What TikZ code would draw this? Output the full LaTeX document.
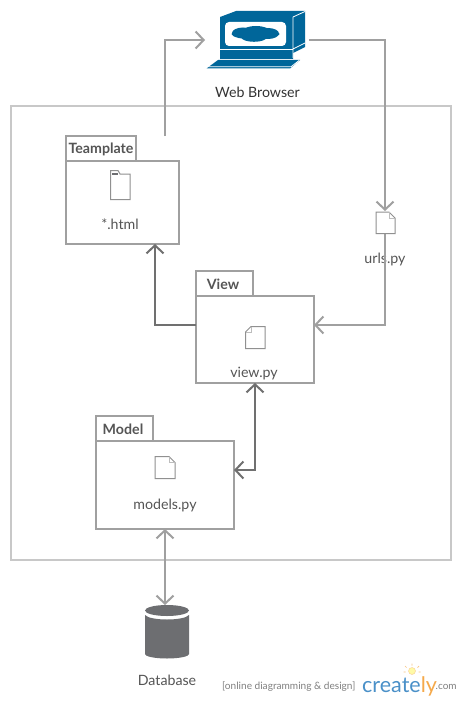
\documentclass[tikz,border=0pt]{standalone}
\usepackage{fontspec}
\setmainfont{Lato}
\usetikzlibrary{arrows.meta}
\definecolor{boxgrey}{HTML}{A0A0A0}
\definecolor{framegrey}{HTML}{C8C8C8}
\definecolor{darkline}{HTML}{707070}
\definecolor{txt}{HTML}{555555}
\definecolor{webblue}{HTML}{00669A}
\definecolor{dbgrey}{HTML}{6D6E71}
\definecolor{logoblue}{HTML}{4A90C8}
\definecolor{logoorange}{HTML}{F5A94A}
\tikzset{
  x=1pt,y=-1pt,
  boxed/.style={draw=boxgrey,line width=2pt,fill=white,inner sep=0pt,outer sep=0pt},
  tabtext/.style={font=\fontsize{14.2}{16}\selectfont\bfseries,text=txt,inner sep=0pt},
  txtlabel/.style={font=\fontsize{14.2}{16}\selectfont,text=txt,inner sep=0pt},
  docicon/.style={draw=boxgrey!90!black,line width=1pt,fill=white,line join=miter},
  foldline/.style={draw=boxgrey!70,line width=.6pt},
  greylink/.style={draw=boxgrey,line width=2pt},
  darklink/.style={draw=darkline,line width=2pt},
  vee/.tip={Straight Barb[length=8pt,width=17pt,line width=2pt]},
}
\newcommand{\pkg}[7]{% name, x0, y0, tab x1, body top, x1, y1
  \node[boxed,anchor=north west,minimum width=#4pt-#2pt,minimum height=#5pt-#3pt] (#1tab) at (#2,#3) {};
  \node[boxed,anchor=north west,minimum width=#6pt-#2pt,minimum height=#7pt-#5pt] (#1) at (#2,#5) {};
}
\begin{document}
\begin{tikzpicture}
\useasboundingbox (0,0) rectangle (460,701);
\fill[white] (0,0) rectangle (460,701);
\node[draw=framegrey,line width=2pt,anchor=north west,minimum width=440pt,minimum height=454pt,inner sep=0pt,outer sep=0pt] (frame) at (11,106) {};

\pkg{tmpl}{66}{136}{136}{161}{179}{244}
\pkg{view}{196}{271}{253}{296}{314}{383}
\pkg{model}{96}{416}{153}{441}{234}{529}
\node[tabtext] at (101,149) {Teamplate};
\node[tabtext] at (223,284) {View};
\node[tabtext] at (123,429) {Model};
\node[txtlabel] at (120,224) {*.html};
\node[txtlabel] (urlslabel) at (385,259) {urls.py};
\node[txtlabel] at (254,374) {view.py};
\node[txtlabel] at (165,505) {models.py};
\node[txtlabel,text=black!80] (browserlabel) at (257.5,92) {Web Browser};
\node[txtlabel] at (167,680) {Database};

% connector ends
\node[inner sep=0pt,outer sep=0pt,minimum width=104pt,minimum height=70pt] (browser) at (257,40) {};
\node[inner sep=0pt,outer sep=0pt,minimum width=20pt,minimum height=22pt] (urls) at (385,222) {};
\node[inner sep=0pt,outer sep=0pt,minimum width=44pt,minimum height=54pt] (db) at (167,632) {};
\coordinate (tmplout) at (165,136);

% connectors
\draw[greylink,-{vee}] (tmplout) -- (165,40) -- (browser.west);
\draw[greylink,-{vee}] (browser.east) -- (385,40) -- (urls.north);
\draw[greylink,-{vee}] (urls.south) -- (385,325) -- (view.east |- 0,325);
\draw[darklink,-{vee}] (view.west |- 0,325) -- (155,325) -- (tmpl.south -| 155,0);
\draw[darklink,{vee}-{vee}] (view.south -| 255,0) -- (255,470) -- (model.east |- 0,470);
\draw[greylink,{vee}-{vee}] (model.south -| 165,0) -- (db.north -| 165,0);

% documents
\draw[docicon] (110.5,170.5) -- (118,170.5) -- (120,174) -- (130,174) -- (130,199.5) -- (110.5,199.5) -- cycle;
\fill[dbgrey] (112,173) rectangle (118,175);
\draw[docicon] (376,212) -- (389,212) -- (395,218) -- (395,233.5) -- (376,233.5) -- cycle;
\draw[foldline] (389,212) -- (389,218) -- (395,218);
\draw[docicon] (251,326.5) -- (265,326.5) -- (265,348.5) -- (245.5,348.5) -- (245.5,332) -- cycle;
\draw[foldline] (251,326.5) -- (251,332) -- (245.5,332);
\draw[docicon] (155,456.5) -- (169,456.5) -- (175,462.5) -- (175,478.5) -- (155,478.5) -- cycle;
\draw[foldline] (169,456.5) -- (169,462.5) -- (175,462.5);

% web browser icon
\fill[webblue] (220,17) -- (236,11) -- (305,11) -- (305,47) -- (293,53) -- (293,59) -- (220,59) -- cycle;
\draw[white,line width=.8pt] (293,17) -- (305,11.5) (293,17) -- (293,58) (293,49.5) -- (220,49.5) (293,49) -- (305,43);
\fill[white,rounded corners=4pt] (225,22) rectangle (286,46);
\fill[webblue] (255.5,34) ellipse (24 and 5.5) (243,33) ellipse (11 and 5.5) (256,31.5) ellipse (14 and 5.5) (268,33.5) ellipse (11 and 5.5) (254,37) ellipse (13 and 4.8);
\fill[webblue] (218,60) -- (300,60) -- (290,68.5) -- (206.5,68.5) -- cycle;
\draw[white,line width=.8pt] (206.5,66.8) -- (291,66.8) -- (299,60.5);

% database icon
\fill[dbgrey] (167,610.5) ellipse (22 and 5.5);
\fill[dbgrey] (145,615) .. controls (150,621) and (184,621) .. (189,615) -- (189,654) arc[start angle=0,end angle=180,x radius=22,y radius=4.5] -- cycle;

% logo
\node[anchor=base west,inner sep=0pt,text=black!50,font=\fontsize{10.1}{12}\selectfont] at (222,689) {[online diagramming \& design]};
\node[anchor=base west,inner sep=0pt,font=\fontsize{21.5}{24}\selectfont] at (362,692) {\textcolor{logoblue}{create}\textcolor{logoorange}{ly}};
\node[anchor=base west,inner sep=0pt,text=black!50,font=\fontsize{10}{11}\selectfont] at (435.5,689.5) {.com};
\fill[yellow!35!white,draw=logoorange!60,line width=.4pt] (412,671) circle (3.5);
\draw[logoorange!70,line width=.7pt] (412,663.5) -- (412,665.5) (405,666) -- (406.5,667.5) (419,666) -- (417.5,667.5) (403.5,672) -- (405.5,672) (420.5,672) -- (418.5,672);
\end{tikzpicture}
\end{document}
